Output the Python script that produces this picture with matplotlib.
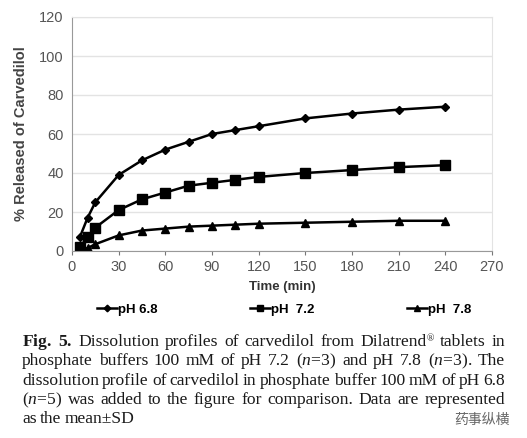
"""
Dissolution profiles of carvedilol at three pH values
- Line chart with markers, legend below, figure caption underneath
- Saves out.png
"""
import matplotlib.pyplot as plt

# sampling times (min)
time_min = [5, 10, 15, 30, 45, 60, 75, 90, 105, 120, 150, 180, 210, 240]

# % released
ph_68 = [7, 17, 25, 39, 46.5, 52, 56, 60, 62, 64, 68, 70.5, 72.5, 74]
ph_72 = [2, 7, 12, 21, 26.5, 30, 33.5, 35, 36.5, 38, 40, 41.5, 43, 44]
ph_78 = [0.5, 1.5, 3.5, 8, 10.5, 11.5, 12.5, 13, 13.5, 14, 14.5, 15, 15.5, 15.5]

series_labels = ["pH 6.8", "pH  7.2", "pH  7.8"]
x_ticks = [0, 30, 60, 90, 120, 150, 180, 210, 240, 270]
y_ticks = [0, 20, 40, 60, 80, 100, 120]

# caption, one list of words per line (mathtext for bold / italic bits)
caption_lines = [
    [r"$\bf{Fig.}$", r"$\bf{5.}$", "Dissolution", "profiles", "of", "carvedilol", "from",
     "Dilatrend®", "tablets", "in"],
    ["phosphate", "buffers", "100", "mM", "of", "pH", "7.2", r"($n$=3)", "and", "pH", "7.8",
     r"($n$=3).", "The"],
    ["dissolution", "profile", "of", "carvedilol", "in", "phosphate", "buffer", "100", "mM",
     "of", "pH", "6.8"],
    [r"($n$=5)", "was", "added", "to", "the", "figure", "for", "comparison.", "Data", "are",
     "represented"],
    ["as", "the", "mean±SD"],
]
watermark = "药事纵横"

plt.rcParams['font.family'] = ['Liberation Sans', 'DejaVu Sans']
plt.rcParams['mathtext.fontset'] = 'custom'
plt.rcParams['mathtext.rm'] = 'Liberation Serif'
plt.rcParams['mathtext.it'] = 'Liberation Serif:italic'
plt.rcParams['mathtext.bf'] = 'Liberation Serif:bold'

fig = plt.figure(figsize=(5.27, 4.38), dpi=100)
W, H = 527, 438
ax = fig.add_axes([72 / W, 1 - 251 / H, (492 - 72) / W, (251 - 17) / H])

ax.plot(time_min, ph_68, color='black', lw=1.8, marker='D', ms=4.5, label=series_labels[0])
ax.plot(time_min, ph_72, color='black', lw=1.8, marker='s', ms=6.5, label=series_labels[1])
ax.plot(time_min, ph_78, color='black', lw=1.8, marker='^', ms=6, label=series_labels[2])

ax.set_xlim(0, 270)
ax.set_ylim(0, 120)
ax.set_xticks(x_ticks)
ax.set_yticks(y_ticks)
ax.tick_params(axis='both', colors='#777777', labelcolor='#555555', labelsize=10.5, length=3)
ax.tick_params(axis='y', length=0, pad=6)
ax.yaxis.grid(True, color='#e3e3e3', lw=1)
ax.set_axisbelow(True)
for side in ['top', 'right']:
    ax.spines[side].set_color('#e3e3e3')
for side in ['left', 'bottom']:
    ax.spines[side].set_color('#999999')

ax.set_xlabel('Time (min)', fontsize=9.5, fontweight='bold', color='#333333', labelpad=5)
ax.set_ylabel('% Released of Carvedilol', fontsize=10.5, fontweight='bold', color='#444444', labelpad=8)

ax.legend(loc='upper center', bbox_to_anchor=(0.505, -0.175), ncol=3, frameon=False,
          prop={'weight': 'bold', 'size': 9.5}, handlelength=1.5, handletextpad=0.1,
          columnspacing=7.0, markerscale=0.75)

# justified caption: place words one by one
renderer = fig.canvas.get_renderer()
left, right = 22, 505
y_first = 346
line_step = 19.3
fs = 12.6
for i, words in enumerate(caption_lines):
    y = 1 - (y_first + i * line_step) / H
    texts, widths, marks = [], [], []
    for w in words:
        sup = w.endswith("®")
        base = w[:-1] if sup else w
        t = fig.text(0, y, base, fontsize=fs, family='Liberation Serif', color='#1a1a1a',
                     va='baseline', ha='left')
        wd = t.get_window_extent(renderer).width
        m = None
        if sup:
            m = fig.text(0, y + 5 / H, "®", fontsize=7, family='Liberation Serif',
                         color='#1a1a1a', va='baseline', ha='left')
            wd += m.get_window_extent(renderer).width
        texts.append((t, m))
        widths.append(wd)
    last = i == len(caption_lines) - 1
    if last:
        gap = 3.5
    else:
        gap = (right - left - sum(widths)) / (len(words) - 1)
    x = left
    for (t, m), wd in zip(texts, widths):
        t.set_x(x / W)
        if m is not None:
            tw = t.get_window_extent(renderer).width
            m.set_x((x + tw) / W)
        x += wd + gap

fig.text(510 / W, 1 - 420 / H, watermark, fontsize=10, family=['Noto Sans CJK SC', 'DejaVu Sans'],
         color='#666666', ha='right', va='center')

fig.savefig('out.png', dpi=100)
